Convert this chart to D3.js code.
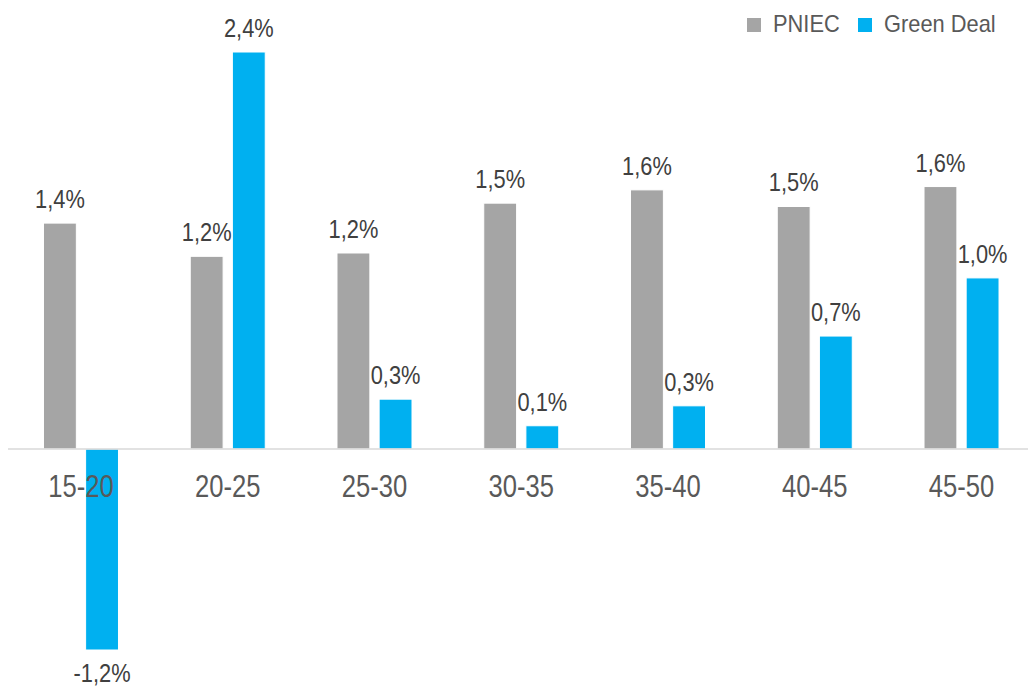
<!DOCTYPE html>
<html>
<head>
<meta charset="utf-8">
<script src="https://cdn.jsdelivr.net/npm/d3@7/dist/d3.min.js"></script>
<style>
  html, body { margin: 0; padding: 0; background: #ffffff; }
  svg { display: block; }
  text { font-family: "Liberation Sans", Arial, sans-serif; }
</style>
</head>
<body>
<svg id="chart" width="1028" height="687"></svg>
<script>
// Annual growth rate by five-year period (%)
const periods = ["15-20", "20-25", "25-30", "30-35", "35-40", "40-45", "45-50"];
const seriesNames = ["PNIEC", "Green Deal"];
const pniec = [1.36, 1.16, 1.18, 1.48, 1.56, 1.46, 1.58];
const greenDeal = [-1.21, 2.39, 0.30, 0.14, 0.26, 0.68, 1.03];
const seriesColors = ["#a5a5a5", "#00b0f0"];

const svg = d3.select("#chart");
const W = 1028, H = 687;

const rows = periods.map((p, i) => ({ period: p, values: [pniec[i], greenDeal[i]] }));

const x = d3.scaleBand().domain(periods).range([7.6, 1034.9]).padding(0);
const xInner = d3.scaleBand().domain(seriesNames).range([-37.5, 37.5]).paddingInner(0.22);
const y = d3.scaleLinear().domain([-1.21, 2.39]).range([650, 52]);

// Comma decimal, plain hyphen for negatives
const locale = d3.formatLocale({ decimal: ",", thousands: ".", grouping: [3], currency: ["", " €"], minus: "-" });
const fmt1 = locale.format(".1f");
const fmt = v => fmt1(v) + "%";

// Condensed text: horizontal squeeze around the anchor point
function narrow(sel, sx) {
  sel.attr("transform", function () {
    const t = d3.select(this);
    const px = +t.attr("x") || 0, py = +t.attr("y") || 0;
    t.attr("x", 0).attr("y", 0);
    return `translate(${px},${py}) scale(${sx},1)`;
  });
}

// Bars
const groups = svg.append("g").selectAll("g")
  .data(rows).join("g")
  .attr("transform", d => `translate(${x(d.period) + x.bandwidth() / 2},0)`);

groups.selectAll("rect")
  .data(d => d.values.map((v, k) => ({ name: seriesNames[k], value: v, k })))
  .join("rect")
  .attr("x", d => xInner(d.name))
  .attr("width", xInner.bandwidth())
  .attr("y", d => y(Math.max(0, d.value)))
  .attr("height", d => Math.abs(y(d.value) - y(0)))
  .attr("fill", d => seriesColors[d.k])
  .attr("stroke", "#ffffff")
  .attr("stroke-width", 1);

// Value labels
groups.selectAll("text.val")
  .data(d => d.values.map((v, k) => ({ name: seriesNames[k], value: v })))
  .join("text")
  .attr("class", "val")
  .attr("x", d => xInner(d.name) + xInner.bandwidth() / 2)
  .attr("y", d => d.value >= 0 ? y(d.value) - 15 : y(d.value) + 32)
  .attr("text-anchor", "middle")
  .attr("font-size", 26)
  .attr("fill", "#404040")
  .text(d => fmt(d.value))
  .call(narrow, 0.84);

// Zero line
svg.append("line")
  .attr("x1", 8).attr("x2", W)
  .attr("y1", y(0)).attr("y2", y(0))
  .attr("stroke", "#d9d9d9").attr("stroke-width", 1.5);

// Category axis labels
const xAxis = d3.axisBottom(x).tickSize(0).tickPadding(0);
const axisG = svg.append("g")
  .attr("transform", `translate(0,${y(0) + 48})`)
  .call(xAxis);
axisG.select(".domain").remove();
axisG.selectAll("text")
  .attr("dy", 0)
  .attr("font-size", 32)
  .attr("fill", "#595959")
  .style("font-family", "\"Liberation Sans\", Arial, sans-serif")
  .call(narrow, 0.8);

// Legend
const legendPos = [747, 858];
const legend = svg.append("g").selectAll("g")
  .data(seriesNames).join("g")
  .attr("transform", (d, i) => `translate(${legendPos[i]},18)`);
legend.append("rect")
  .attr("width", 14).attr("height", 14)
  .attr("fill", (d, i) => seriesColors[i]);
legend.append("text")
  .attr("x", 26).attr("y", 14)
  .attr("font-size", 23)
  .attr("fill", "#595959")
  .text(d => d)
  .call(narrow, 0.95);
</script>
</body>
</html>
